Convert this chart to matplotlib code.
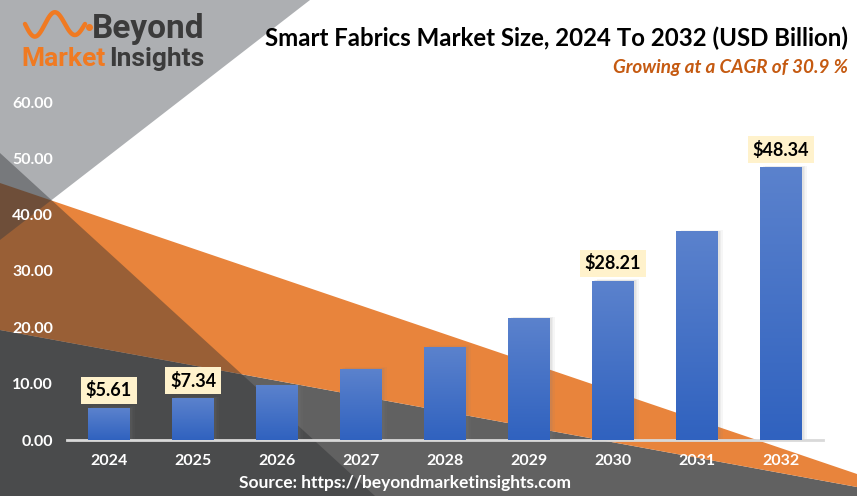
import numpy as np
import matplotlib
matplotlib.use("Agg")
import matplotlib.pyplot as plt
from matplotlib.patches import Polygon, Rectangle

plt.rcParams['font.family'] = ['Lato', 'DejaVu Sans']

# Data
years = ["2024", "2025", "2026", "2027", "2028", "2029", "2030", "2031", "2032"]
market_size = [5.61, 7.34, 9.61, 12.58, 16.47, 21.56, 28.21, 36.93, 48.34]
labelled_years = ["2024", "2025", "2030", "2032"]
y_ticks = [0, 10, 20, 30, 40, 50, 60]

title = "Smart Fabrics Market Size, 2024 To 2032 (USD Billion)"
subtitle = "Growing at a CAGR of 30.9 %"
source = "Source: https://beyondmarketinsights.com"

W, H = 857, 496
fig = plt.figure(figsize=(W / 100, H / 100), dpi=100)

# background decoration in pixel coordinates
bg = fig.add_axes([0, 0, 1, 1])
bg.set_xlim(0, W)
bg.set_ylim(H, 0)
bg.axis("off")
bg.add_patch(Rectangle((0, 0), W, H, color="white", zorder=0))
# medium gray floor
bg.add_patch(Polygon([(0, 330), (W, 487), (W, H), (0, H)], closed=True,
                     color="#616161", lw=0, zorder=1))
# orange band
bg.add_patch(Polygon([(0, 183), (W, 474), (W, 487), (0, 330)], closed=True,
                     color="#e8843c", lw=0, zorder=2))
# light gray triangle top-left
bg.add_patch(Polygon([(0, 0), (310, 0), (0, 240)], closed=True,
                     color="#3c4148", alpha=0.42, lw=0, zorder=3))
# dark triangle bottom-left
bg.add_patch(Polygon([(0, 153), (375, H), (0, H)], closed=True,
                     color="#2a2c2f", alpha=0.41, lw=0, zorder=4))

# logo
t = np.linspace(0, 1, 200)
wx = 25 + 60 * t
wy = 24 - 13 * np.sin(2 * np.pi * 1.5 * t + np.pi) * np.exp(-0.2 * t)
bg.plot(wx, wy, color="#f07a22", lw=3.2, solid_capstyle="round", zorder=6)
bg.plot([89], [27], "o", color="#f07a22", ms=4, zorder=6)
bg.text(92, 38, "Beyond", fontsize=24, fontweight="bold", color="#3b3b3b",
        family=["Roboto", "DejaVu Sans"], va="baseline", ha="left", zorder=6)
bg.text(21, 66, "Market", fontsize=19, color="#f07a22", fontweight="bold",
        family=["Roboto", "DejaVu Sans"], va="baseline", ha="left", zorder=6)
bg.text(109, 66, "Insights", fontsize=19, color="#3b3b3b", fontweight="bold",
        family=["Roboto", "DejaVu Sans"], va="baseline", ha="left", zorder=6)

# titles
bg.text(848, 38, title, fontsize=17.3, fontweight="bold", color="black",
        ha="right", va="center", zorder=6)
bg.text(848, 67, subtitle, fontsize=13.6, fontweight="bold", style="italic",
        color="#c55a11", ha="right", va="center", zorder=6)
bg.text(405, 483, source, fontsize=12.5, fontweight="bold", color="white",
        ha="center", va="center", zorder=6)

# chart axes
ax = fig.add_axes([67 / W, (H - 440) / H, (823 - 67) / W, (440 - 102) / H])
ax.patch.set_alpha(0)
x = np.arange(len(years))
bw = 0.5

grad = np.linspace(0, 1, 256).reshape(-1, 1)
cmap = matplotlib.colors.LinearSegmentedColormap.from_list("bar", ["#3062bf", "#5b82cd"])
for xi, v in zip(x, market_size):
    # soft shadow
    for k, a in [(0.06, 0.07), (0.04, 0.08), (0.02, 0.09)]:
        ax.add_patch(Rectangle((xi - bw / 2 + k, 0), bw, v + k * 6, color="#808080",
                               alpha=a, lw=0, zorder=2))
    ax.imshow(grad, extent=[xi - bw / 2, xi + bw / 2, 0, v], origin="lower",
              cmap=cmap, aspect="auto", zorder=3)

for xi, yr, v in zip(x, years, market_size):
    if yr in labelled_years:
        ax.annotate(f"${v:.2f}", (xi, v), xytext=(0, 13), textcoords="offset points",
                    ha="center", va="center", fontsize=13, fontweight="bold",
                    color="black", zorder=5,
                    bbox=dict(boxstyle="square,pad=0.25", fc="#fff2cc", ec="none"))

ax.set_xlim(-0.5, len(years) - 0.5)
ax.set_ylim(0, 60)
ax.set_xticks(x)
ax.set_xticklabels(years)
ax.set_yticks(y_ticks)
ax.set_yticklabels([f"{v:.2f}" for v in y_ticks])
ax.tick_params(length=0, colors="white", labelsize=11.5, pad=10)
for lab in ax.get_xticklabels() + ax.get_yticklabels():
    lab.set_fontweight("bold")
for s in ["top", "right", "left"]:
    ax.spines[s].set_visible(False)
ax.spines["bottom"].set_color("#d9d9d9")
ax.spines["bottom"].set_linewidth(2)

fig.savefig("out.png", dpi=100)
